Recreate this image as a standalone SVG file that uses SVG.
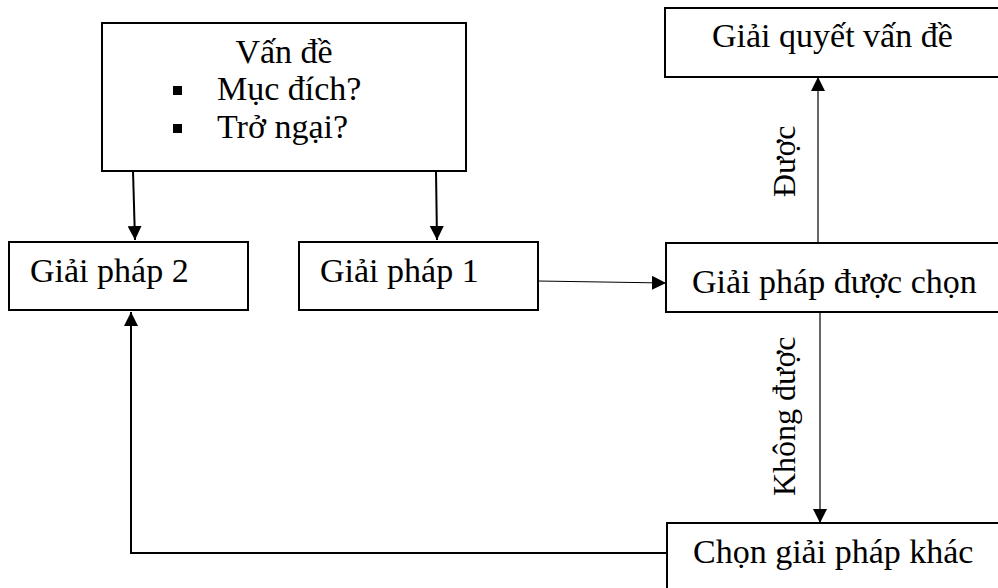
<svg xmlns="http://www.w3.org/2000/svg" width="998" height="588" viewBox="0 0 998 588">
  <style>
    .box { fill: #fff; stroke: #000; stroke-width: 2; }
    .lbl { font-family: "Liberation Serif", "Times New Roman", serif; font-size: 34px; fill: #000; }
    .side { font-family: "Liberation Serif", "Times New Roman", serif; font-size: 32px; fill: #000; }
    .edge { fill: none; stroke: #000; stroke-width: 2; }
    .thin { fill: none; stroke: #000; stroke-width: 1.2; }
  </style>
  <defs>
    <marker id="arrow" viewBox="0 0 14 14" refX="14" refY="7" markerWidth="14" markerHeight="14" markerUnits="userSpaceOnUse" orient="auto">
      <path d="M0,0 L14,7 L0,14 Z" fill="#000"/>
    </marker>
  </defs>

  <rect width="998" height="588" fill="#fff"/>

  <g id="connectors">
    <path class="edge" d="M133,171 L135,240" marker-end="url(#arrow)"/>
    <path class="edge" d="M436,171 L437,240" marker-end="url(#arrow)"/>
    <path class="thin" d="M538,281 L666,283" stroke-width="1.6" marker-end="url(#arrow)"/>
    <path class="thin" d="M818,243 L818,77" marker-end="url(#arrow)"/>
    <path class="thin" d="M820,312 L820,523" marker-end="url(#arrow)"/>
    <path class="edge" d="M667,553 L131,553 L131,312" marker-end="url(#arrow)"/>
    <text class="side" transform="translate(795,197) rotate(-90)">Được</text>
    <text class="side" transform="translate(795,496) rotate(-90)">Không được</text>
  </g>

  <g id="van-de">
    <rect class="box" x="102" y="23" width="364" height="148"/>
    <text class="lbl" x="284" y="63" text-anchor="middle">Vấn đề</text>
    <rect x="173" y="86" width="9" height="9" fill="#000"/>
    <text class="lbl" x="217" y="100">Mục đích?</text>
    <rect x="173" y="124" width="9" height="9" fill="#000"/>
    <text class="lbl" x="217" y="138">Trở ngại?</text>
  </g>

  <g id="giai-phap-2">
    <rect class="box" x="9" y="242" width="239" height="68"/>
    <text class="lbl" x="30" y="282">Giải pháp 2</text>
  </g>

  <g id="giai-phap-1">
    <rect class="box" x="299" y="242" width="239" height="68"/>
    <text class="lbl" x="320" y="282">Giải pháp 1</text>
  </g>

  <g id="giai-quyet">
    <rect class="box" x="665" y="8" width="345" height="69"/>
    <text class="lbl" x="712" y="47">Giải quyết vấn đề</text>
  </g>

  <g id="giai-phap-duoc-chon">
    <rect class="box" x="666" y="243" width="345" height="69"/>
    <text class="lbl" x="692" y="293">Giải pháp được chọn</text>
  </g>

  <g id="chon-giai-phap-khac">
    <rect class="box" x="667" y="523" width="345" height="80"/>
    <text class="lbl" x="693" y="563">Chọn giải pháp khác</text>
  </g>
</svg>
